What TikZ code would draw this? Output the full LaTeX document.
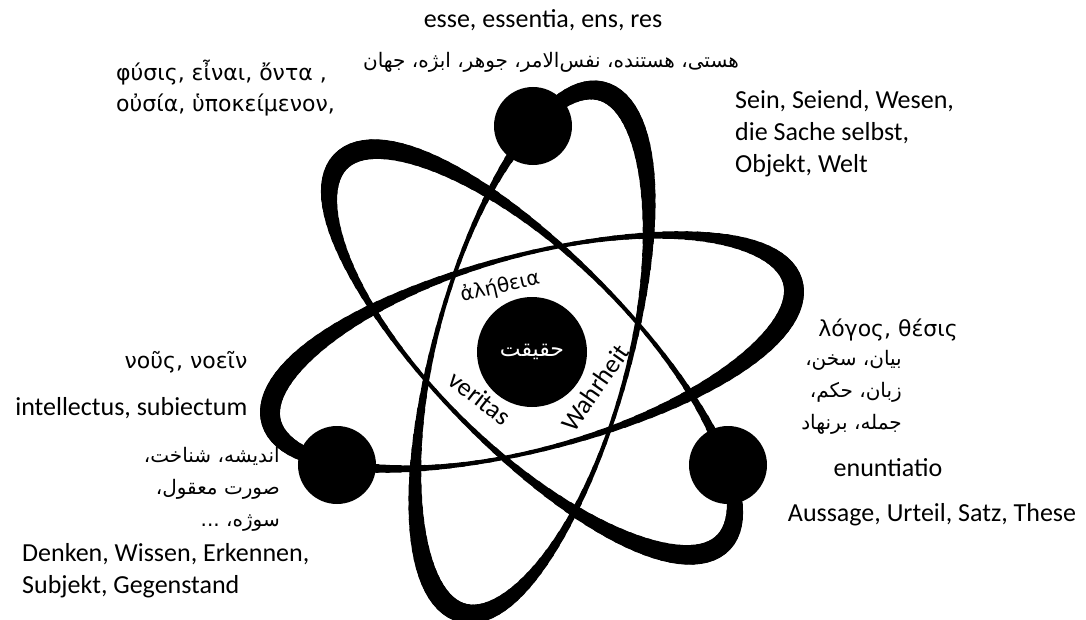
\documentclass[tikz,border=0pt]{standalone}
\usepackage{fontspec}
\setmainfont{Carlito}
\newfontfamily\greekfont{DejaVu Sans}
\newfontfamily\arabicfont[Script=Arabic]{DejaVu Sans}
\TeXXeTstate=1
\usetikzlibrary{positioning}
\newcommand{\gr}{\greekfont\fontsize{22}{31}\selectfont}
\newcommand{\fa}{\arabicfont\fontsize{20}{32}\selectfont}

\begin{document}
\begin{tikzpicture}[x=1pt,y=1pt,font=\fontsize{26}{32}\selectfont,node distance=2pt,
    every node/.style={inner sep=0pt},
    orbit/.style={line cap=round},
    electron/.style={circle,fill=black,minimum size=78pt},
    nucleus/.style={circle,fill=black,minimum size=110pt,text=white}]
    \useasboundingbox (-532,-267) rectangle (554,352);
    % three orbits, thick near one end of each
    \foreach \rot in {15,75,135}
      \foreach \t in {0,3,...,357}{
        \pgfmathsetmacro\w{4+16*(1+cos(2*(\t+12)))/2}
        \draw[orbit,rotate=\rot,line width=\w pt] (\t:270pt and 97pt) arc[start angle=\t,delta angle=3.5,x radius=270pt,y radius=97pt];
      }
    \node[nucleus] (core) at (0,0) {\fa\fontsize{22}{24}\selectfont\beginR حقیقت\endR};
    \node[electron] (eTop) at (1,226) {};
    \node[electron] (eLeft) at (-195,-113) {};
    \node[electron] (eRight) at (196,-113) {};
    \node[rotate=13] (aletheia) at (-32,65) {\gr\fontsize{20}{24}\selectfont ἀλήθεια};
    \node[rotate=-38] (veritas) at (-52,-46) {veritas};
    \node[rotate=55] (wahrheit) at (63,-36) {Wahrheit};
    % labels round the atom
    \node (esse) at (11,332) {esse, essentia, ens, res};
    \node (hasti) at (19,290) {\fa\beginR هستی، هستند‌ه، نفس‌الامر، جوهر، ابژه، جهان\endR};
    \node[align=left,anchor=west,font=\gr] (physis) at (-416,264) {φύσις, εἶναι, ὄντα ,\\οὐσία, ὑποκείμενον,};
    \node[align=left,anchor=west] (sein) at (203,218) {Sein, Seiend, Wesen,\\die Sache selbst,\\Objekt, Welt};
    \node[font=\gr] (logos) at (356,22) {λόγος, θέσις};
    \node[align=right,anchor=east,font=\fa] (bayan) at (370,-40) {\beginR بیان، سخن،\endR\\\beginR زبان، حکم،\endR\\\beginR جمله، برنهاد\endR};
    \node (enunt) at (356,-116) {enuntiatio};
    \node (aussage) at (400,-163) {Aussage, Urteil, Satz, These};
    \node[font=\gr] (nous) at (-346,-10) {νοῦς, νοεῖν};
    \node[below left=24pt and 0pt of nous.south east] (intel) {intellectus, subiectum};
    \node[align=right,anchor=east,font=\fa] (andishe) at (-252,-137) {\beginR اندیشه، شناخت،\endR\\\beginR صورت معقول،\endR\\\beginR سوژه، ...\endR};
    \node[align=left,anchor=west] (denken) at (-510,-219) {Denken, Wissen, Erkennen,\\Subjekt, Gegenstand};
  \end{tikzpicture}
\end{document}
